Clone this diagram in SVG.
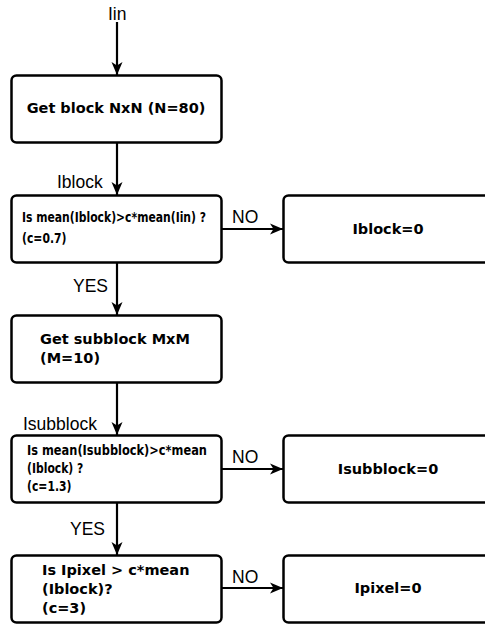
<svg xmlns="http://www.w3.org/2000/svg" width="485" height="624" viewBox="0 0 485 624">
<defs>
<marker id="ah" markerUnits="userSpaceOnUse" markerWidth="16" markerHeight="14" viewBox="-14 -7 16 14" refX="0" refY="0" orient="auto">
<path d="M0,0 L-13,-5.5 L-9.5,0 L-13,5.5 Z" fill="#000"/>
</marker>
<style>
.box{fill:#fff;stroke:#000;stroke-width:2.5}
.con{fill:none;stroke:#000;stroke-width:2.2;marker-end:url(#ah)}
.lbl{font-family:"Liberation Sans",Arial,sans-serif;font-size:17.5px;fill:#000}
.bt{font-family:"DejaVu Sans",sans-serif;font-weight:bold;font-size:14.5px;fill:#000}
.ct{font-family:"DejaVu Sans",sans-serif;font-weight:bold;font-size:13.5px;fill:#000}
</style>
</defs>
<rect width="485" height="624" fill="#fff"/>
<g id="connectors">
<line class="con" x1="117" y1="22" x2="117" y2="75"/>
<line class="con" x1="117" y1="143" x2="117" y2="195"/>
<line class="con" x1="222" y1="229" x2="283" y2="229"/>
<line class="con" x1="117" y1="263" x2="117" y2="315"/>
<line class="con" x1="117" y1="383" x2="117" y2="435"/>
<line class="con" x1="222" y1="469" x2="283" y2="469"/>
<line class="con" x1="117" y1="503" x2="117" y2="555"/>
<line class="con" x1="222" y1="588" x2="283" y2="588"/>
<text class="lbl" x="108" y="20">Iin</text>
<text class="lbl" x="57" y="188">Iblock</text>
<text class="lbl" x="232" y="223">NO</text>
<text class="lbl" x="73" y="292">YES</text>
<text class="lbl" x="23" y="430">Isubblock</text>
<text class="lbl" x="232" y="463">NO</text>
<text class="lbl" x="70" y="535">YES</text>
<text class="lbl" x="232" y="583">NO</text>
</g>
<g id="n1">
<rect class="box" x="11.5" y="75.5" width="210" height="67" rx="5"/>
<text class="bt" x="116" y="113" text-anchor="middle">Get block NxN (N=80)</text>
</g>
<g id="n2">
<rect class="box" x="11.5" y="195.5" width="210" height="67" rx="5"/>
<g transform="translate(22,0) scale(0.8,1)">
<text class="ct" x="0" y="222" textLength="230" lengthAdjust="spacingAndGlyphs">Is mean(Iblock)&gt;c*mean(Iin) ?</text>
<text class="ct" x="0" y="243">(c=0.7)</text>
</g>
</g>
<g id="n3">
<rect class="box" x="283.5" y="195.5" width="215" height="67" rx="5"/>
<text class="bt" x="388" y="234" text-anchor="middle">Iblock=0</text>
</g>
<g id="n4">
<rect class="box" x="11.5" y="315.5" width="210" height="67" rx="5"/>
<text class="bt" x="40" y="344">Get subblock MxM</text>
<text class="bt" x="40" y="363">(M=10)</text>
</g>
<g id="n5">
<rect class="box" x="11.5" y="435.5" width="210" height="67" rx="5"/>
<g transform="translate(27,0) scale(0.8,1)">
<text class="ct" x="0" y="455" textLength="225" lengthAdjust="spacingAndGlyphs">Is mean(Isubblock)&gt;c*mean</text>
<text class="ct" x="0" y="473">(Iblock) ?</text>
<text class="ct" x="0" y="491">(c=1.3)</text>
</g>
</g>
<g id="n6">
<rect class="box" x="283.5" y="435.5" width="215" height="67" rx="5"/>
<text class="bt" x="388" y="474" text-anchor="middle">Isubblock=0</text>
</g>
<g id="n7">
<rect class="box" x="11.5" y="555.5" width="210" height="67" rx="5"/>
<text class="bt" x="42" y="575">Is Ipixel &gt; c*mean</text>
<text class="bt" x="42" y="594">(Iblock)?</text>
<text class="bt" x="42" y="613">(c=3)</text>
</g>
<g id="n8">
<rect class="box" x="283.5" y="555.5" width="215" height="67" rx="5"/>
<text class="bt" x="388" y="593" text-anchor="middle">Ipixel=0</text>
</g>
</svg>
